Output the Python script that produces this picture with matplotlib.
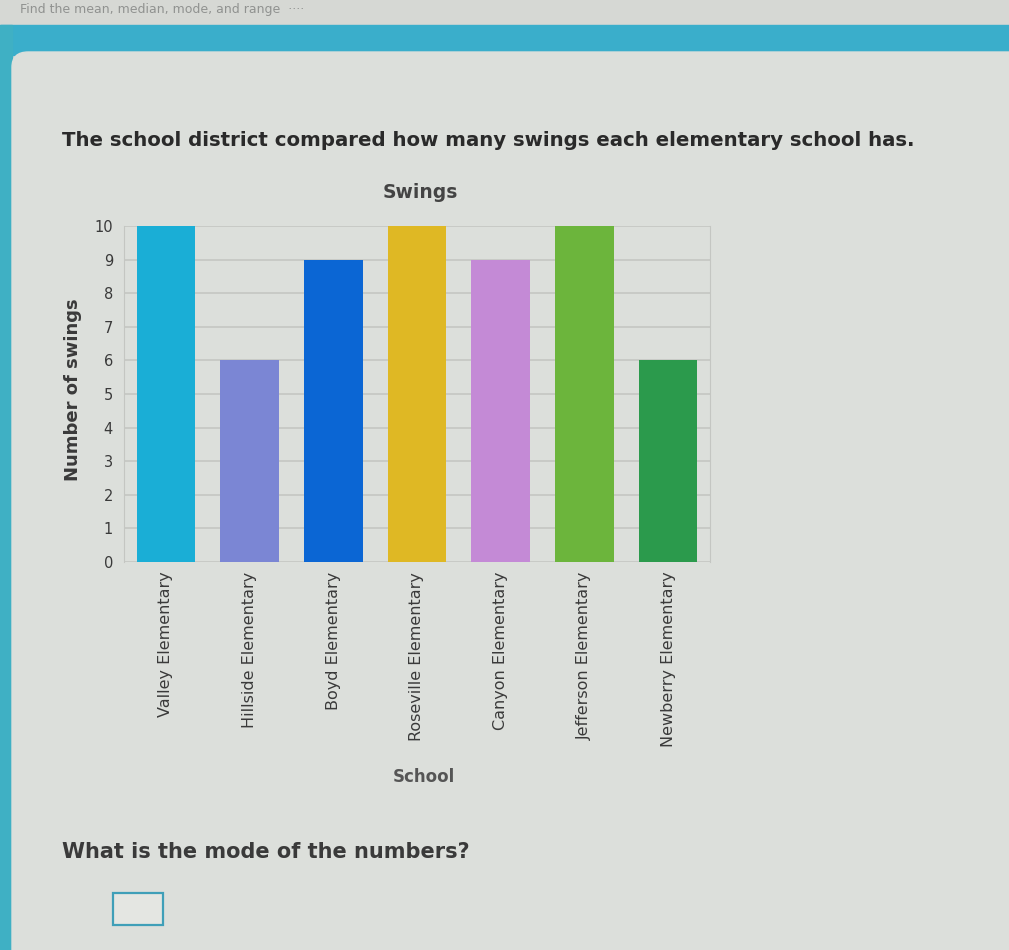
import matplotlib.pyplot as plt
from matplotlib.patches import Rectangle, FancyBboxPatch

# data
schools = ['Valley Elementary', 'Hillside Elementary', 'Boyd Elementary',
           'Roseville Elementary', 'Canyon Elementary', 'Jefferson Elementary',
           'Newberry Elementary']
swings = [10, 6, 9, 10, 9, 10, 6]
colors = ['#1aaed6', '#7b86d4', '#0b66d4', '#dfb824', '#c48ad6', '#6cb53c', '#2b9a4c']

W, H = 1009, 950
fig = plt.figure(figsize=(W / 100, H / 100), dpi=100)
fig.patch.set_facecolor('#d6d8d4')


def fx(px):
    return px / W


def fy(py):
    return 1 - py / H


# page decoration
fig.patches.append(Rectangle((0, fy(55)), 1, fy(25) - fy(55), transform=fig.transFigure,
                             color='#3aaecb', zorder=-3))
fig.patches.append(Rectangle((0, 0), fx(12), fy(25), transform=fig.transFigure,
                             color='#3fb0c4', zorder=-3))
fig.patches.append(FancyBboxPatch((fx(12), -0.05), 1.05, fy(52) + 0.05,
                                  boxstyle='round,pad=0,rounding_size=0.016',
                                  transform=fig.transFigure, color='#dcdfdb', zorder=-2))
fig.text(fx(20), fy(9), 'Find the mean, median, mode, and range  ····', fontsize=9,
         color='#909290', va='center')

fig.text(fx(62), fy(140), 'The school district compared how many swings each elementary school has.',
         fontsize=14.2, fontweight='bold', color='#2a2a2a', va='center')
fig.text(fx(62), fy(852), 'What is the mode of the numbers?',
         fontsize=15, fontweight='bold', color='#3a3a3a', va='center')
fig.patches.append(Rectangle((fx(113), fy(925)), fx(50), fy(893) - fy(925),
                             transform=fig.transFigure, facecolor='#e4e6e2',
                             edgecolor='#3f9fb8', linewidth=1.6, zorder=2))

# chart
ax = fig.add_axes([fx(124), fy(562), fx(710) - fx(124), fy(226) - fy(562)])
ax.set_zorder(1)
ax.set_facecolor('none')
ax.bar(range(len(schools)), swings, width=0.7, color=colors, zorder=3)
ax.set_xlim(-0.5, len(schools) - 0.5)
ax.set_ylim(0, 10)
ax.set_yticks(range(0, 11))
ax.yaxis.grid(True, color='#c4c6c2', linewidth=1.2, zorder=0)
ax.tick_params(axis='y', length=0, labelsize=10.5, labelcolor='#3a3a3a', pad=8)
ax.set_xticks(range(len(schools)))
ax.set_xticklabels(schools, rotation=90, fontsize=11.5, color='#3a3a3a')
ax.tick_params(axis='x', length=0, pad=7)
for s in ['top', 'bottom']:
    ax.spines[s].set_visible(False)
for s in ['left', 'right']:
    ax.spines[s].set_color('#c4c6c2')

fig.text(fx(420), fy(192), 'Swings', fontsize=13.5, fontweight='bold', color='#444444',
         ha='center', va='center')
fig.text(fx(73), fy(390), 'Number of swings', fontsize=13, fontweight='bold', color='#3a3a3a',
         ha='center', va='center', rotation=90)
fig.text(fx(424), fy(777), 'School', fontsize=12, fontweight='bold', color='#555555',
         ha='center', va='center')

fig.savefig('out.png', dpi=100, facecolor=fig.get_facecolor())
